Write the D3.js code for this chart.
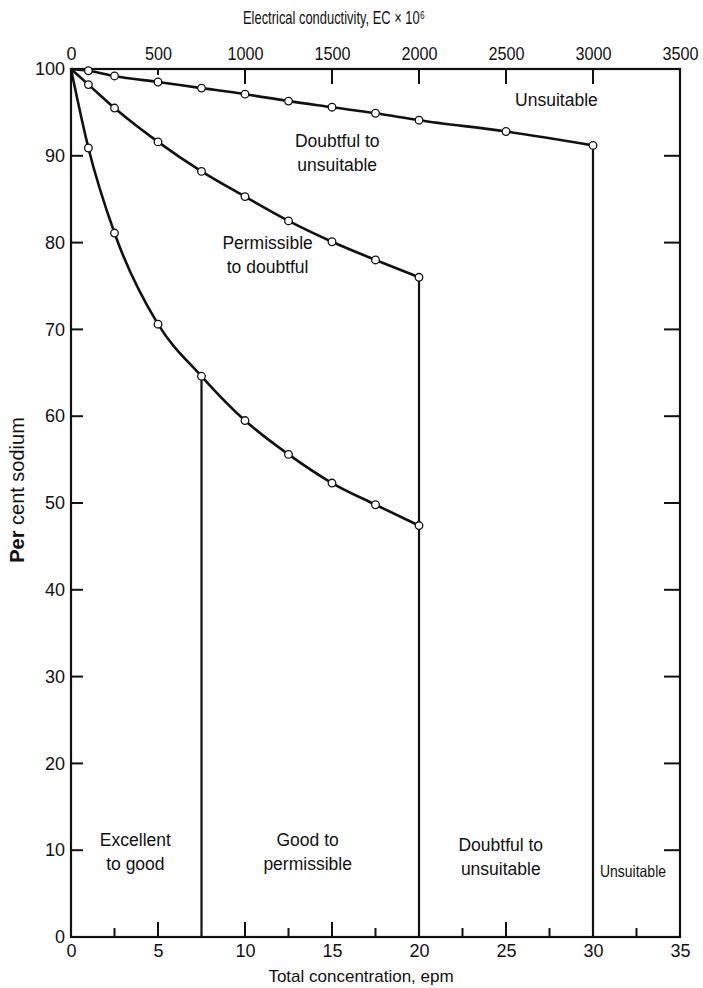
<!DOCTYPE html>
<html>
<head>
<meta charset="utf-8">
<script src="https://cdn.jsdelivr.net/npm/d3@7"></script>
<style>
  html, body { margin: 0; padding: 0; background: #fff; }
  svg text { font-family: "Liberation Sans", Arial, sans-serif; fill: #111; }
  .tick-label { font-size: 18px; }
  .axis-title { font-size: 17px; }
  .zone { font-size: 17.5px; }
</style>
</head>
<body>
<div id="chart"></div>
<script>
// axis ticks
const epmTicks = [0, 5, 10, 15, 20, 25, 30, 35];
const epmMinor = [2.5, 5, 10, 12.5, 15, 17.5, 22.5, 25, 27.5, 32.5];
const ecTicks = [0, 500, 1000, 1500, 2000, 2500, 3000, 3500];
const ecInner = [500, 1000, 1500, 2000, 2500, 3000];
const sodiumTicks = [0, 10, 20, 30, 40, 50, 60, 70, 80, 90, 100];

// boundary curves: total concentration (epm) vs per cent sodium
const upperX = [0, 1, 2.5, 5, 7.5, 10, 12.5, 15, 17.5, 20, 25, 30];
const upperY = [100, 99.8, 99.2, 98.5, 97.8, 97.1, 96.3, 95.6, 94.9, 94.1, 92.8, 91.2];
const middleX = [0, 1, 2.5, 5, 7.5, 10, 12.5, 15, 17.5, 20];
const middleY = [100, 98.2, 95.5, 91.6, 88.2, 85.3, 82.5, 80.1, 78.0, 76.0];
const lowerX = [0, 1, 2.5, 5, 7.5, 10, 12.5, 15, 17.5, 20];
const lowerY = [100, 90.9, 81.1, 70.6, 64.6, 59.5, 55.6, 52.3, 49.8, 47.4];

// class boundaries along the concentration axis
const dividerX = [7.5, 20, 30];

const W = 703, H = 988;
const x = d3.scaleLinear().domain([0, 35]).range([71, 680]);
const ec = d3.scaleLinear().domain([0, 3500]).range([71, 680]);
const y = d3.scaleLinear().domain([0, 100]).range([937, 69]);

const svg = d3.select('#chart').append('svg')
  .attr('width', W).attr('height', H);

const ink = '#111';

// frame
svg.append('rect')
  .attr('x', x(0)).attr('y', y(100))
  .attr('width', x(35) - x(0)).attr('height', y(0) - y(100))
  .attr('fill', 'none').attr('stroke', ink).attr('stroke-width', 2.2);

// bottom axis (labels only, ticks drawn inward below)
const bottomAxis = svg.append('g')
  .attr('transform', `translate(0,${y(0)})`)
  .call(d3.axisBottom(x).tickValues(epmTicks).tickSize(0).tickPadding(7).tickFormat(d3.format('d')));
bottomAxis.select('.domain').remove();
bottomAxis.selectAll('text').attr('class', 'tick-label').attr('font-size', null).attr('font-family', null);

svg.append('g').selectAll('line')
  .data(epmMinor).join('line')
  .attr('x1', d => x(d)).attr('x2', d => x(d))
  .attr('y1', y(0)).attr('y2', d => y(0) - (d % 5 === 0 ? 15 : 9))
  .attr('stroke', ink).attr('stroke-width', 2);

// top axis
const topAxis = svg.append('g')
  .attr('transform', `translate(0,${y(100)})`)
  .call(d3.axisTop(ec).tickValues(ecTicks).tickSize(0).tickPadding(9).tickFormat(d3.format('d')));
topAxis.select('.domain').remove();
topAxis.selectAll('text').attr('class', 'tick-label').attr('font-size', null).attr('font-family', null)
  .attr('textLength', d => d === 0 ? null : (d < 1000 ? 27 : 36))
  .attr('lengthAdjust', 'spacingAndGlyphs');

svg.append('g').selectAll('line')
  .data(ecInner).join('line')
  .attr('x1', d => ec(d)).attr('x2', d => ec(d))
  .attr('y1', y(100)).attr('y2', d => y(100) + (d === 500 ? 6 : 15))
  .attr('stroke', ink).attr('stroke-width', 2);

// left axis
const leftAxis = svg.append('g')
  .attr('transform', `translate(${x(0)},0)`)
  .call(d3.axisLeft(y).tickValues(sodiumTicks).tickSize(0).tickPadding(6).tickFormat(d3.format('d')));
leftAxis.select('.domain').remove();
leftAxis.selectAll('text').attr('class', 'tick-label').attr('font-size', null).attr('font-family', null);

const innerSodium = sodiumTicks.filter(d => d > 0 && d < 100);
svg.append('g').selectAll('line')
  .data(innerSodium).join('line')
  .attr('x1', x(0)).attr('x2', x(0) + 12)
  .attr('y1', d => y(d)).attr('y2', d => y(d))
  .attr('stroke', ink).attr('stroke-width', 2);

// right axis ticks
svg.append('g').selectAll('line')
  .data(innerSodium).join('line')
  .attr('x1', x(35)).attr('x2', x(35) - 16)
  .attr('y1', d => y(d)).attr('y2', d => y(d))
  .attr('stroke', ink).attr('stroke-width', 2);

// vertical class boundaries, from the curve down to the axis
const curves = [
  { xs: upperX, ys: upperY },
  { xs: middleX, ys: middleY },
  { xs: lowerX, ys: lowerY }
];
// each divider starts at a point of the curve above it
const dividerTops = [
  lowerY[lowerX.indexOf(7.5)],
  middleY[middleX.indexOf(20)],
  upperY[upperX.indexOf(30)]
];
svg.append('g').selectAll('line')
  .data(dividerX).join('line')
  .attr('x1', d => x(d)).attr('x2', d => x(d))
  .attr('y1', (d, i) => y(dividerTops[i])).attr('y2', y(0))
  .attr('stroke', ink).attr('stroke-width', 2.2);

// curves with open circle markers
const line = d3.line()
  .x(d => x(d[0])).y(d => y(d[1]))
  .curve(d3.curveMonotoneX);

curves.forEach(c => {
  const pts = c.xs.map((v, i) => [v, c.ys[i]]);
  svg.append('path')
    .datum(pts)
    .attr('d', line)
    .attr('fill', 'none').attr('stroke', ink).attr('stroke-width', 2.6);
  svg.append('g').selectAll('circle')
    .data(pts.slice(1)).join('circle')
    .attr('cx', d => x(d[0])).attr('cy', d => y(d[1]))
    .attr('r', 3.8)
    .attr('fill', '#fff').attr('stroke', ink).attr('stroke-width', 1.3);
});

// zone labels (placed in data units: epm, per cent)
const zones = [
  { lines: ['Unsuitable'], at: [27.9, 96.4] },
  { lines: ['Doubtful to', 'unsuitable'], at: [15.3, 91.7] },
  { lines: ['Permissible', 'to doubtful'], at: [11.3, 80.0] },
  { lines: ['Excellent', 'to good'], at: [3.7, 11.2] },
  { lines: ['Good to', 'permissible'], at: [13.6, 11.2] },
  { lines: ['Doubtful to', 'unsuitable'], at: [24.7, 10.6] },
  { lines: ['Unsuitable'], at: [32.3, 7.6], small: true }
];

zones.forEach(z => {
  const t = svg.append('text')
    .attr('class', 'zone')
    .attr('text-anchor', 'middle')
    .attr('x', x(z.at[0]))
    .attr('y', y(z.at[1]));
  z.lines.forEach((s, i) => {
    const sp = t.append('tspan')
      .attr('x', x(z.at[0]))
      .attr('dy', i === 0 ? '0.35em' : '1.37em')
      .text(s);
    if (z.small) sp.attr('textLength', 66).attr('lengthAdjust', 'spacingAndGlyphs');
  });
  if (z.small) t.style('font-size', '16.5px');
});

// axis titles
svg.append('text')
  .attr('class', 'axis-title')
  .attr('x', 243).attr('y', 24)
  .style('font-size', '19px')
  .attr('textLength', 182).attr('lengthAdjust', 'spacingAndGlyphs')
  .text('Electrical conductivity, EC × 10⁶');

svg.append('text')
  .attr('class', 'axis-title')
  .attr('text-anchor', 'middle')
  .attr('x', 361).attr('y', 982)
  .text('Total concentration, epm');

const ylab = svg.append('text')
  .attr('class', 'axis-title')
  .attr('text-anchor', 'middle')
  .attr('transform', `translate(24,${y(51.5)}) rotate(-90)`)
  .style('font-size', '20px');
ylab.append('tspan').style('font-weight', 'bold').text('Per');
ylab.append('tspan').text(' cent sodium');
</script>
</body>
</html>
